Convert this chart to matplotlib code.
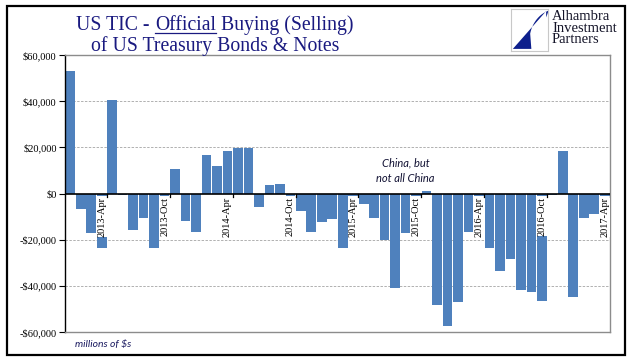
import matplotlib
matplotlib.use("Agg")
import matplotlib.pyplot as plt
from matplotlib.patches import Rectangle, Polygon
from matplotlib.transforms import offset_copy
import numpy as np

# ---------------- data ----------------
years = [2013] * 12 + [2014] * 12 + [2015] * 12 + [2016] * 12 + [2017] * 4
month_names = ['Jan', 'Feb', 'Mar', 'Apr', 'May', 'Jun', 'Jul', 'Aug', 'Sep', 'Oct', 'Nov', 'Dec']
months = [f"{y}-{month_names[i % 12]}" for i, y in enumerate(years)]

values = [
    53000, -6800, -17200, -23800, 40300, -700, -16000, -10700, -23400, -1600, 10400, -11700,
    -16800, 16500, 12100, 18600, 19500, 19900, -6000, 3500, 3900, -2400, -7400, -16800,
    -12400, -11100, -23800, -2000, -4400, -10600, -20200, -41000, -17200, -3000, 900, -48100,
    -57200, -47200, -16500, -3000, -23400, -33600, -28200, -41900, -42500, -46400, -700, 18600,
    -45000, -10700, -9000, -6800,
]
tick_labels = ['2013-Apr', '2013-Oct', '2014-Apr', '2014-Oct', '2015-Apr',
               '2015-Oct', '2016-Apr', '2016-Oct', '2017-Apr']
yticks = [-60000, -40000, -20000, 0, 20000, 40000, 60000]

# ---------------- style ----------------
W, H = 641, 361
SERIF = 'Liberation Serif'
NAVY = '#1A1A80'
BAR = '#4F81BD'

fig = plt.figure(figsize=(W / 100, H / 100), dpi=100)
fig.patch.set_facecolor('white')

ax = fig.add_axes([65 / W, (H - 332) / H, 545 / W, 277 / H])
x = np.arange(len(values))
ax.bar(x, values, width=0.92, color=BAR, zorder=2)
ax.set_xlim(-0.5, len(values) - 0.5)
ax.set_ylim(-60000, 60000)

ax.set_yticks(yticks)
ax.set_yticklabels([("-$" if v < 0 else "$") + f"{abs(v):,}" for v in yticks],
                   fontfamily=SERIF, fontsize=7.5)
ax.tick_params(axis='y', direction='out', length=4, width=0.8, color='black', pad=2)
ax.set_xticks([])
for v in yticks:
    if v not in (0, -60000, 60000):
        ax.axhline(v, color='#B0B0B0', lw=0.7, ls=(0, (2.5, 1.5)), zorder=1)
ax.axhline(0, color='black', lw=1.2, zorder=4)

for side in ['top', 'right', 'bottom']:
    ax.spines[side].set_color('#8C8C8C')
    ax.spines[side].set_linewidth(1.0)
ax.spines['left'].set_color('black')
ax.spines['left'].set_linewidth(1.0)

# category labels (inside plot, below zero line)
lab_trans = offset_copy(ax.transData, fig=fig, x=0, y=-3, units='dots')
for lab in tick_labels:
    i = months.index(lab)
    ax.text(i, 0, lab, rotation=90, ha='center', va='top', fontfamily=SERIF,
            fontsize=7.5, transform=lab_trans, zorder=5,
            bbox=dict(boxstyle='square,pad=0.05', fc='white', ec='none'))
    ax.plot([i + 0.5, i + 0.5], [0, -1400], color='black', lw=0.9, zorder=5)

# annotation
ax.text(32.0, 10000, "China, but\nnot all China", ha='center', va='center',
        fontfamily='Lato', fontstyle='italic', fontsize=8, color='#111133',
        linespacing=1.5, zorder=5)

fig.text(75 / W, 1 - 344 / H, "millions of $s", ha='left', va='center',
         fontfamily='Lato', fontstyle='italic', fontsize=7.5, color='#1A1A60')

# ---------------- title with underlined "Official" ----------------
renderer = fig.canvas.get_renderer()
tprops = dict(fontfamily=SERIF, fontsize=14.2, color=NAVY)


def text_width(s):
    t = fig.text(0, 0, s, **tprops)
    w = t.get_window_extent(renderer).width
    t.remove()
    return w


space_w = text_width("a a") - text_width("aa")
w_pre = text_width("US TIC -") + space_w
w_off = text_width("Official")
w_post = text_width("Buying (Selling)") + space_w
total = w_pre + w_off + w_post
cx = 215
y1 = H - 30
left = cx - total / 2
fig.text(left / W, y1 / H, "US TIC -", ha='left', va='baseline', **tprops)
fig.text((left + w_pre) / W, y1 / H, "Official", ha='left', va='baseline', **tprops)
fig.text((left + w_pre + w_off + space_w) / W, y1 / H, "Buying (Selling)", ha='left',
         va='baseline', **tprops)
fig.add_artist(plt.Line2D([(left + w_pre) / W, (left + w_pre + w_off) / W],
                          [(y1 - 2.5) / H, (y1 - 2.5) / H], color=NAVY, lw=0.9,
                          transform=fig.transFigure))
fig.text(cx / W, (H - 51) / H, "of US Treasury Bonds & Notes", ha='center',
         va='baseline', **tprops)

# ---------------- logo ----------------
lax = fig.add_axes([511 / W, (H - 51) / H, 37 / W, 42 / H])
lax.set_xlim(0, 1)
lax.set_ylim(0, 1)
lax.set_xticks([])
lax.set_yticks([])
for s in lax.spines.values():
    s.set_color('#C8C8C8')
    s.set_linewidth(0.8)
ccx, ccy, r = 1.25, 0.25, 0.75
arc = [(ccx + r * np.cos(a), ccy + r * np.sin(a)) for a in np.linspace(np.pi * 0.6, np.pi * 0.93, 30)]
shape = Polygon([(0.05, 0.05), (0.95, 0.95), (0.95, 0.80)] + arc + [(0.55, 0.05)],
                closed=True, fc='#0D1F8C', ec='none')
lax.add_patch(shape)

fig.text(552 / W, (H - 10) / H, "Alhambra\nInvestment\nPartners", ha='left', va='top',
         fontfamily=SERIF, fontsize=10.5, color='#141428', linespacing=0.85)

# ---------------- outer border ----------------
fig.add_artist(Rectangle((7 / W, 6 / H), (625 - 7) / W, (355 - 6) / H,
                         transform=fig.transFigure, fill=False, ec='black', lw=1.6))

fig.savefig('out.png', dpi=100)
